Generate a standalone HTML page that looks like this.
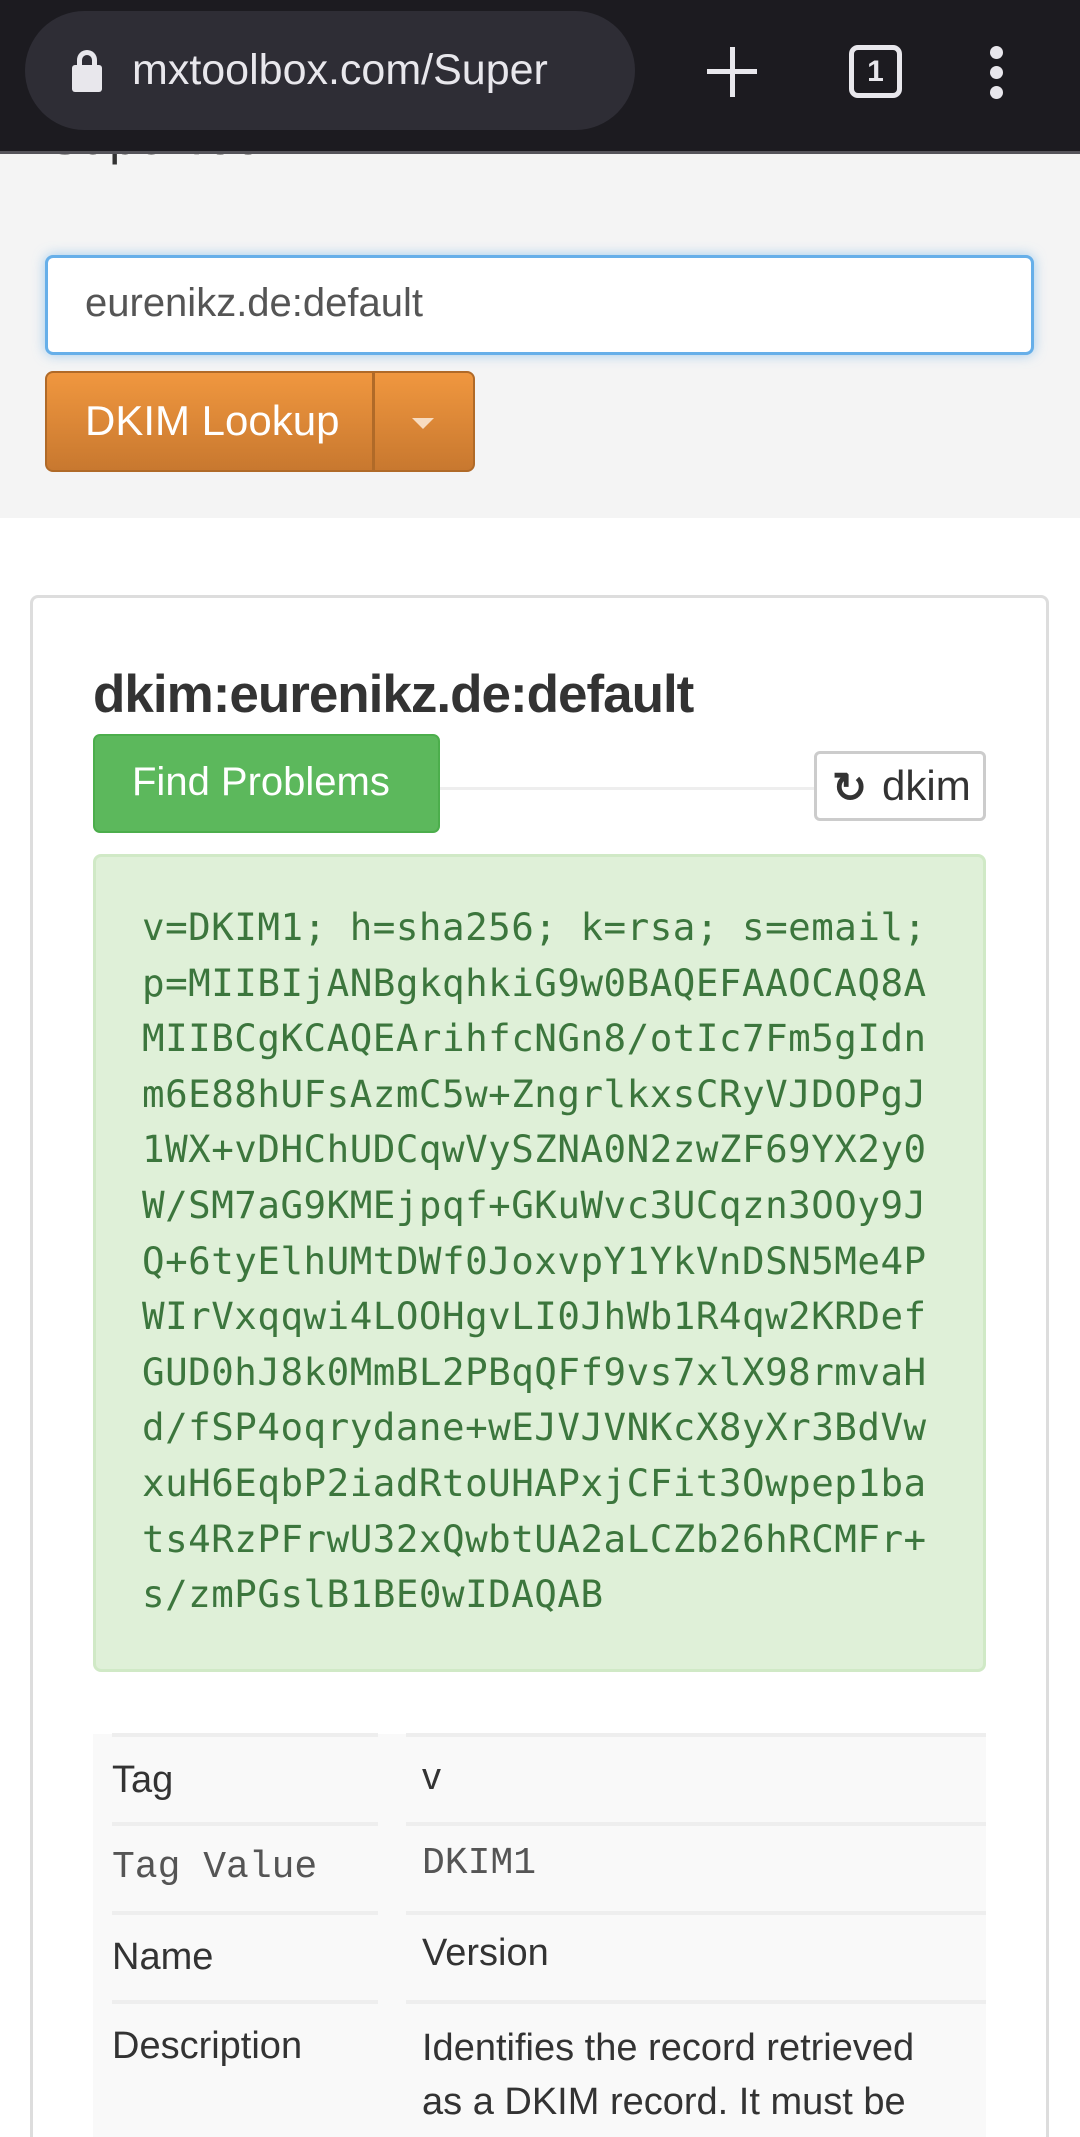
<!DOCTYPE html>
<html><head><meta charset="utf-8"><style>
*{margin:0;padding:0;box-sizing:border-box}
html,body{width:1080px;height:2137px;overflow:hidden}
body{background:#fff;font-family:"Liberation Sans",sans-serif;position:relative;color:#333}
.a{position:absolute}
.mono{font-family:"DejaVu Sans Mono","Liberation Mono",monospace}
</style></head><body>
<div class="a" style="left:0;top:154px;width:1080px;height:364px;background:#f4f4f4"></div>
<div class="a" style="left:48px;top:108px;font-size:50px;color:#333">SuperTool</div>
<div class="a" style="left:0;top:0;width:1080px;height:154px;background:#1c1b20;border-bottom:3px solid #55545a"></div>
<div class="a" style="left:25px;top:11px;width:610px;height:119px;border-radius:60px;background:#2e2d35"></div>
<div class="a" style="left:72px;top:65px;width:30px;height:27px;background:#e8e7ec;border-radius:3px"></div>
<div class="a" style="left:77px;top:50px;width:20px;height:24px;border:5px solid #e8e7ec;border-bottom:none;border-radius:10px 10px 0 0"></div>
<div class="a" style="left:132px;top:46px;font-size:43px;color:#e8e7ec;width:500px;overflow:hidden;white-space:nowrap">mxtoolbox.com/Super</div>
<div class="a" style="left:707px;top:69px;width:50px;height:5px;background:#e8e7ec"></div>
<div class="a" style="left:730px;top:47px;width:5px;height:50px;background:#e8e7ec"></div>
<div class="a" style="left:849px;top:45px;width:53px;height:53px;border:5px solid #e8e7ec;border-radius:9px;color:#e8e7ec;font-size:30px;font-weight:bold;text-align:center;line-height:43px">1</div>
<div class="a" style="left:990px;top:46px;width:13px;height:13px;border-radius:50%;background:#e8e7ec"></div>
<div class="a" style="left:990px;top:66px;width:13px;height:13px;border-radius:50%;background:#e8e7ec"></div>
<div class="a" style="left:990px;top:86px;width:13px;height:13px;border-radius:50%;background:#e8e7ec"></div>

<div class="a" style="left:45px;top:255px;width:989px;height:100px;background:#fff;border:3px solid #66afe9;border-radius:8px;box-shadow:0 0 12px rgba(102,175,233,.6)"></div>
<div class="a" style="left:85px;top:281px;font-size:40px;color:#555">eurenikz.de:default</div>

<div class="a" style="left:45px;top:371px;width:430px;height:101px;border:2px solid #b06a28;border-radius:8px;background:linear-gradient(#f0973f,#c8782f)"></div>
<div class="a" style="left:372px;top:373px;width:3px;height:97px;background:#b06a28"></div>
<div class="a" style="left:85px;top:397px;font-size:42px;color:#fff">DKIM Lookup</div>
<div class="a" style="left:412px;top:418px;width:0;height:0;border-left:11px solid transparent;border-right:11px solid transparent;border-top:11px solid #f8dcc0"></div>

<div class="a" style="left:30px;top:595px;width:1019px;height:1542px;border:3px solid #ddd;border-bottom:0;border-radius:8px 8px 0 0;background:#fff"></div>
<div class="a" style="left:93px;top:664px;font-size:53px;font-weight:bold;color:#333;letter-spacing:-1px">dkim:eurenikz.de:default</div>
<div class="a" style="left:440px;top:787px;width:374px;height:3px;background:#eee"></div>
<div class="a" style="left:93px;top:734px;width:347px;height:99px;background:#5cb85c;border:2px solid #4cae4c;border-radius:7px"></div>
<div class="a" style="left:132px;top:760px;font-size:40px;color:#fff">Find Problems</div>
<div class="a" style="left:814px;top:751px;width:172px;height:70px;background:#fff;border:3px solid #ccc;border-radius:6px"></div>
<div class="a" style="left:832px;top:763px;font-size:42px;color:#333;font-weight:bold">&#x21BB;</div>
<div class="a" style="left:882px;top:762px;font-size:42px;color:#333">dkim</div>

<div class="a" style="left:93px;top:854px;width:893px;height:818px;background:#dff0d8;border:3px solid #d0e9c6;border-radius:8px"></div>
<div class="a mono" style="left:142px;top:900px;font-size:37.5px;line-height:55.6px;color:#3c763d;white-space:pre;letter-spacing:0.5px">v=DKIM1; h=sha256; k=rsa; s=email;
p=MIIBIjANBgkqhkiG9w0BAQEFAAOCAQ8A
MIIBCgKCAQEArihfcNGn8/otIc7Fm5gIdn
m6E88hUFsAzmC5w+ZngrlkxsCRyVJDOPgJ
1WX+vDHChUDCqwVySZNA0N2zwZF69YX2y0
W/SM7aG9KMEjpqf+GKuWvc3UCqzn3OOy9J
Q+6tyElhUMtDWf0JoxvpY1YkVnDSN5Me4P
WIrVxqqwi4LOOHgvLI0JhWb1R4qw2KRDef
GUD0hJ8k0MmBL2PBqQFf9vs7xlX98rmvaH
d/fSP4oqrydane+wEJVJVNKcX8yXr3BdVw
xuH6EqbP2iadRtoUHAPxjCFit3Owpep1ba
ts4RzPFrwU32xQwbtUA2aLCZb26hRCMFr+
s/zmPGslB1BE0wIDAQAB</div>

<div class="a" style="left:93px;top:1734px;width:893px;height:403px;background:#f9f9f9"></div>
<div class="a" style="left:112px;top:1733px;width:266px;height:4px;background:#eee"></div>
<div class="a" style="left:406px;top:1733px;width:580px;height:4px;background:#eee"></div>
<div class="a" style="left:112px;top:1822px;width:266px;height:4px;background:#eee"></div>
<div class="a" style="left:406px;top:1822px;width:580px;height:4px;background:#eee"></div>
<div class="a" style="left:112px;top:1911px;width:266px;height:4px;background:#eee"></div>
<div class="a" style="left:406px;top:1911px;width:580px;height:4px;background:#eee"></div>
<div class="a" style="left:112px;top:2000px;width:266px;height:4px;background:#eee"></div>
<div class="a" style="left:406px;top:2000px;width:580px;height:4px;background:#eee"></div>

<div class="a" style="left:112px;top:1759px;font-size:38px;color:#333">Tag</div>
<div class="a" style="left:422px;top:1756px;font-size:38px;color:#333">v</div>
<div class="a" style="left:112px;top:1846px;font-size:38px;color:#555;font-family:'Liberation Mono',monospace">Tag Value</div>
<div class="a" style="left:422px;top:1842px;font-size:38px;color:#555;font-family:'Liberation Mono',monospace">DKIM1</div>
<div class="a" style="left:112px;top:1936px;font-size:38px;color:#333">Name</div>
<div class="a" style="left:422px;top:1932px;font-size:38px;color:#333">Version</div>
<div class="a" style="left:112px;top:2025px;font-size:38px;color:#333">Description</div>
<div class="a" style="left:422px;top:2021px;font-size:38px;line-height:54px;color:#333;width:560px;white-space:nowrap">Identifies the record retrieved<br>as a DKIM record. It must be</div>
</body></html>
